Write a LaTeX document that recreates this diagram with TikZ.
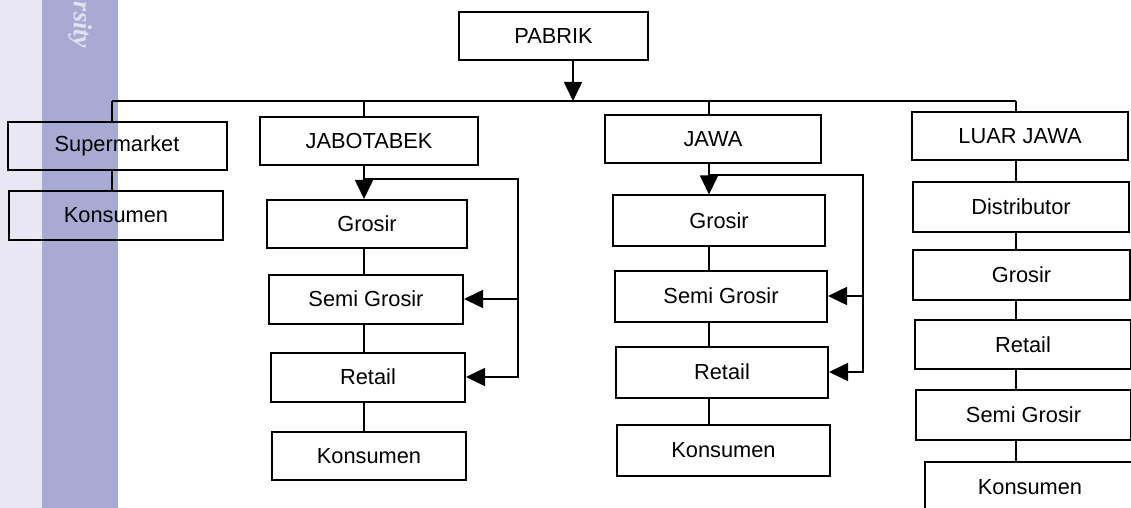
\documentclass[tikz,border=0pt]{standalone}
\usepackage{fontspec}
\setmainfont{Liberation Sans}
\newfontfamily\wmfont{Liberation Serif}
\usetikzlibrary{arrows.meta}
\definecolor{striplight}{HTML}{E9E7F3}
\definecolor{stripdark}{HTML}{A9AAD3}
\definecolor{wmtext}{HTML}{E2E2F2}
\tikzset{
  box/.style={draw, line width=1pt, inner sep=0pt,
    font=\fontsize{10.9}{12}\selectfont},
  link/.style={line width=0.8pt},
  arr/.style={line width=0.8pt, -{Triangle[length=9.5pt,width=9pt]}},
}
\begin{document}
\begin{tikzpicture}[x=0.5pt,y=-0.5pt]
\path[use as bounding box] (0,0) rectangle (1131,508);
\clip (0,0) rectangle (1131,508);

% page margin strip with watermark
\fill[striplight] (0,0) rectangle (42,508);
\fill[stripdark] (42,0) rectangle (118,508);
\node[rotate=-90, text=wmtext, inner sep=0pt,
  font=\wmfont\bfseries\itshape\fontsize{13}{13}\selectfont]
  (wm) at (80,25) {rsity};

% top level
\node[box, minimum width=94.5pt, minimum height=24pt] (pabrik) at (553.5,36) {PABRIK};
\coordinate (busL) at (112,101);
\coordinate (busR) at (1016,101);
\coordinate (busM) at (573,101);
\draw[link] (busL) -- (busR);
\draw[arr] (pabrik.south -| busM) -- (busM);

% supermarket branch
\node[box, minimum width=109.5pt, minimum height=24pt] (sup) at (117,146) {Supermarket};
\node[box, minimum width=107pt, minimum height=24.5pt] (konL) at (116,215.5) {Konsumen};
\draw[link] (busL) -- (busL |- sup.north);
\draw[link] (busL |- sup.south) -- (busL |- konL.north);

% JABOTABEK branch
\coordinate (jx) at (364,0);
\node[box, minimum width=109pt, minimum height=24pt] (jab) at (369,141) {JABOTABEK};
\node[box, minimum width=100pt, minimum height=24pt] (jgro) at (367,224) {Grosir};
\node[box, minimum width=97pt, minimum height=24.5pt] (jsemi) at (366,299) {Semi Grosir};
\node[box, minimum width=97pt, minimum height=24.5pt] (jret) at (368,377) {Retail};
\node[box, minimum width=97pt, minimum height=24pt] (jkon) at (369,456) {Konsumen};
\draw[link] (jx |- busL) -- (jx |- jab.north);
\draw[arr] (jx |- jab.south) -- (jx |- jgro.north);
\draw[link] (jx |- jgro.south) -- (jx |- jsemi.north);
\draw[link] (jx |- jsemi.south) -- (jx |- jret.north);
\draw[link] (jx |- jret.south) -- (jx |- jkon.north);
\coordinate (jtop) at (364,179);
\coordinate (jbx) at (518,0);
\draw[arr] (jtop) -| (jbx |- jret.east) -- (jret.east);
\draw[arr] (jbx |- jsemi.east) -- (jsemi.east);

% JAWA branch
\coordinate (wx) at (709,0);
\node[box, minimum width=108pt, minimum height=24pt] (jawa) at (713,139) {JAWA};
\node[box, minimum width=106pt, minimum height=25.5pt] (wgro) at (719,221) {Grosir};
\node[box, minimum width=106pt, minimum height=25.5pt] (wsemi) at (721,296) {Semi Grosir};
\node[box, minimum width=106pt, minimum height=25.5pt] (wret) at (722,372) {Retail};
\node[box, minimum width=106.5pt, minimum height=25.5pt] (wkon) at (723.5,450.5) {Konsumen};
\draw[link] (wx |- busL) -- (wx |- jawa.north);
\draw[arr] (wx |- jawa.south) -- (wx |- wgro.north);
\draw[link] (wx |- wgro.south) -- (wx |- wsemi.north);
\draw[link] (wx |- wsemi.south) -- (wx |- wret.north);
\draw[link] (wx |- wret.south) -- (wx |- wkon.north);
\coordinate (wtop) at (709,175);
\coordinate (wbx) at (863,0);
\draw[arr] (wtop) -| (wbx |- wret.east) -- (wret.east);
\draw[arr] (wbx |- wsemi.east) -- (wsemi.east);

% LUAR JAWA branch
\node[box, minimum width=108pt, minimum height=24pt] (luar) at (1020,136) {LUAR JAWA};
\node[box, minimum width=108pt, minimum height=25pt] (dist) at (1021,207) {Distributor};
\node[box, minimum width=108.5pt, minimum height=25pt] (lgro) at (1021.5,275) {Grosir};
\node[box, minimum width=108pt, minimum height=24.5pt] (lret) at (1023,344.5) {Retail};
\node[box, minimum width=107.5pt, minimum height=25pt] (lsemi) at (1023.5,415) {Semi Grosir};
\node[box, minimum width=105pt, minimum height=25pt] (lkon) at (1030,487) {Konsumen};
\draw[link] (busR) -- (busR |- luar.north);
\draw[link] (busR |- luar.south) -- (busR |- dist.north);
\draw[link] (busR |- dist.south) -- (busR |- lgro.north);
\draw[link] (busR |- lgro.south) -- (busR |- lret.north);
\draw[link] (busR |- lret.south) -- (busR |- lsemi.north);
\draw[link] (busR |- lsemi.south) -- (busR |- lkon.north);
\end{tikzpicture}
\end{document}
